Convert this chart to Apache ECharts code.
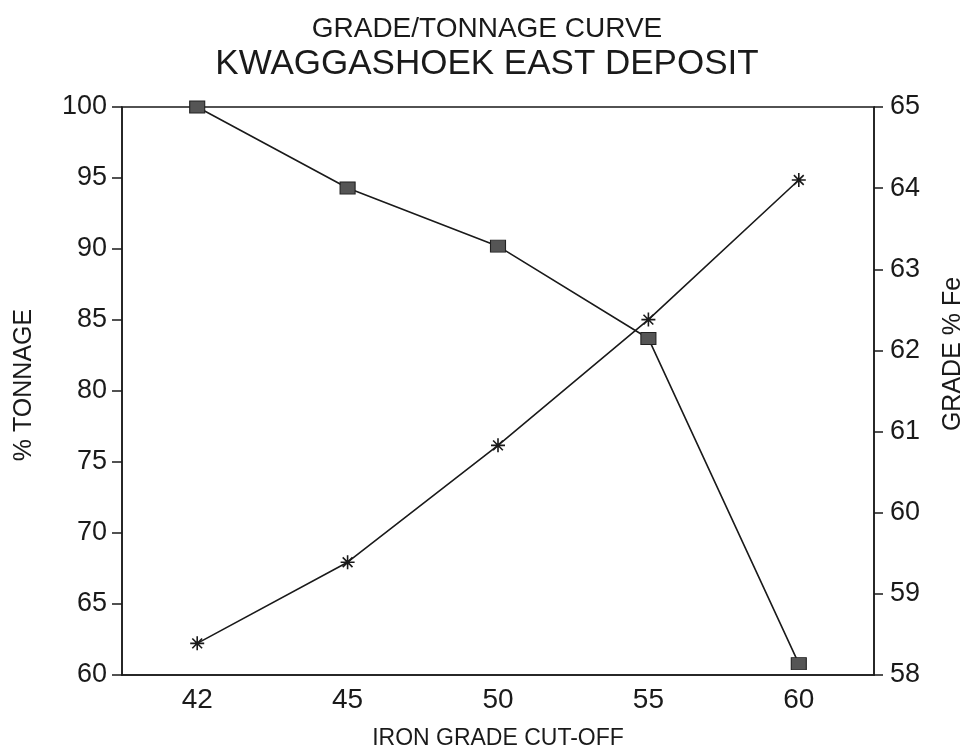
<!DOCTYPE html>
<html>
<head>
<meta charset="utf-8">
<script src="https://cdn.jsdelivr.net/npm/echarts@6/dist/echarts.min.js"></script>
<style>
  html, body { margin: 0; padding: 0; background: #fff; }
  #chart { width: 974px; height: 755px; }
</style>
</head>
<body>
<div id="chart"></div>
<script>
// iron grade cut-off categories
const cutOffs = ['42', '45', '50', '55', '60']
// % tonnage (left axis)
const tonnage = [100, 94.3, 90.2, 83.7, 60.8]
// grade % Fe (right axis)
const grade = [58.39, 59.39, 60.83, 62.38, 64.1]

const ink = '#1a1a1a'
const font = 'Liberation Sans, Arial, sans-serif'

const chart = echarts.init(document.getElementById('chart'))

const option = {
  backgroundColor: '#fff',
  animation: false,
  title: [
    {
      text: 'GRADE/TONNAGE CURVE',
      left: 'center',
      top: 10,
      textStyle: { fontFamily: font, fontSize: 28, fontWeight: 'normal', color: ink }
    },
    {
      text: 'KWAGGASHOEK EAST DEPOSIT',
      left: 'center',
      top: 42,
      textStyle: { fontFamily: font, fontSize: 35, fontWeight: 'normal', color: ink }
    }
  ],
  grid: {
    left: 122,
    right: 97,
    top: 107,
    bottom: 74,
    show: true,
    borderColor: ink,
    borderWidth: 1.5,
    containLabel: false
  },
  xAxis: {
    type: 'category',
    data: cutOffs,
    boundaryGap: true,
    name: 'IRON GRADE CUT-OFF',
    nameLocation: 'middle',
    nameGap: 52,
    nameTextStyle: { fontFamily: font, fontSize: 23, color: ink },
    axisLine: { lineStyle: { color: ink, width: 1.5 } },
    axisTick: { alignWithLabel: true, length: 8, lineStyle: { color: ink, width: 1.5 } },
    axisLabel: { fontFamily: font, fontSize: 28, color: ink, margin: 11 },
    splitLine: { show: false }
  },
  yAxis: [
    {
      type: 'value',
      min: 60,
      max: 100,
      interval: 5,
      position: 'left',
      name: '% TONNAGE',
      nameLocation: 'middle',
      nameGap: 85,
      nameTextStyle: { fontFamily: font, fontSize: 25, color: ink, padding: [0, 0, 0, 12] },
      axisLine: { show: true, lineStyle: { color: ink, width: 1.5 } },
      axisTick: { show: true, length: 10, lineStyle: { color: ink, width: 1.5 } },
      axisLabel: { fontFamily: font, fontSize: 27, color: ink, margin: 15 },
      splitLine: { show: false }
    },
    {
      type: 'value',
      min: 58,
      max: 65,
      interval: 1,
      position: 'right',
      name: 'GRADE % Fe',
      nameLocation: 'middle',
      nameGap: 67,
      nameTextStyle: { fontFamily: font, fontSize: 25, color: ink, padding: [0, 0, 0, 74] },
      axisLine: { show: true, lineStyle: { color: ink, width: 1.5 } },
      axisTick: { show: true, length: 9, lineStyle: { color: ink, width: 1.5 } },
      axisLabel: { fontFamily: font, fontSize: 27, color: ink, margin: 16 },
      splitLine: { show: false }
    }
  ],
  series: [
    {
      name: '% TONNAGE',
      type: 'line',
      yAxisIndex: 0,
      data: tonnage,
      symbol: 'rect',
      symbolSize: [15, 12],
      lineStyle: { color: ink, width: 1.6 },
      itemStyle: { color: '#555', borderColor: '#222', borderWidth: 1 },
      z: 3
    },
    {
      name: 'GRADE % Fe',
      type: 'line',
      yAxisIndex: 1,
      data: grade,
      symbol: 'path://M0,-10 L0,10 M-10,0 L10,0 M-7,-7 L7,7 M-7,7 L7,-7',
      symbolSize: 14,
      lineStyle: { color: ink, width: 1.6 },
      itemStyle: { color: 'none', borderColor: ink, borderWidth: 1.6 },
      z: 2
    }
  ]
}

chart.setOption(option)
</script>
</body>
</html>
